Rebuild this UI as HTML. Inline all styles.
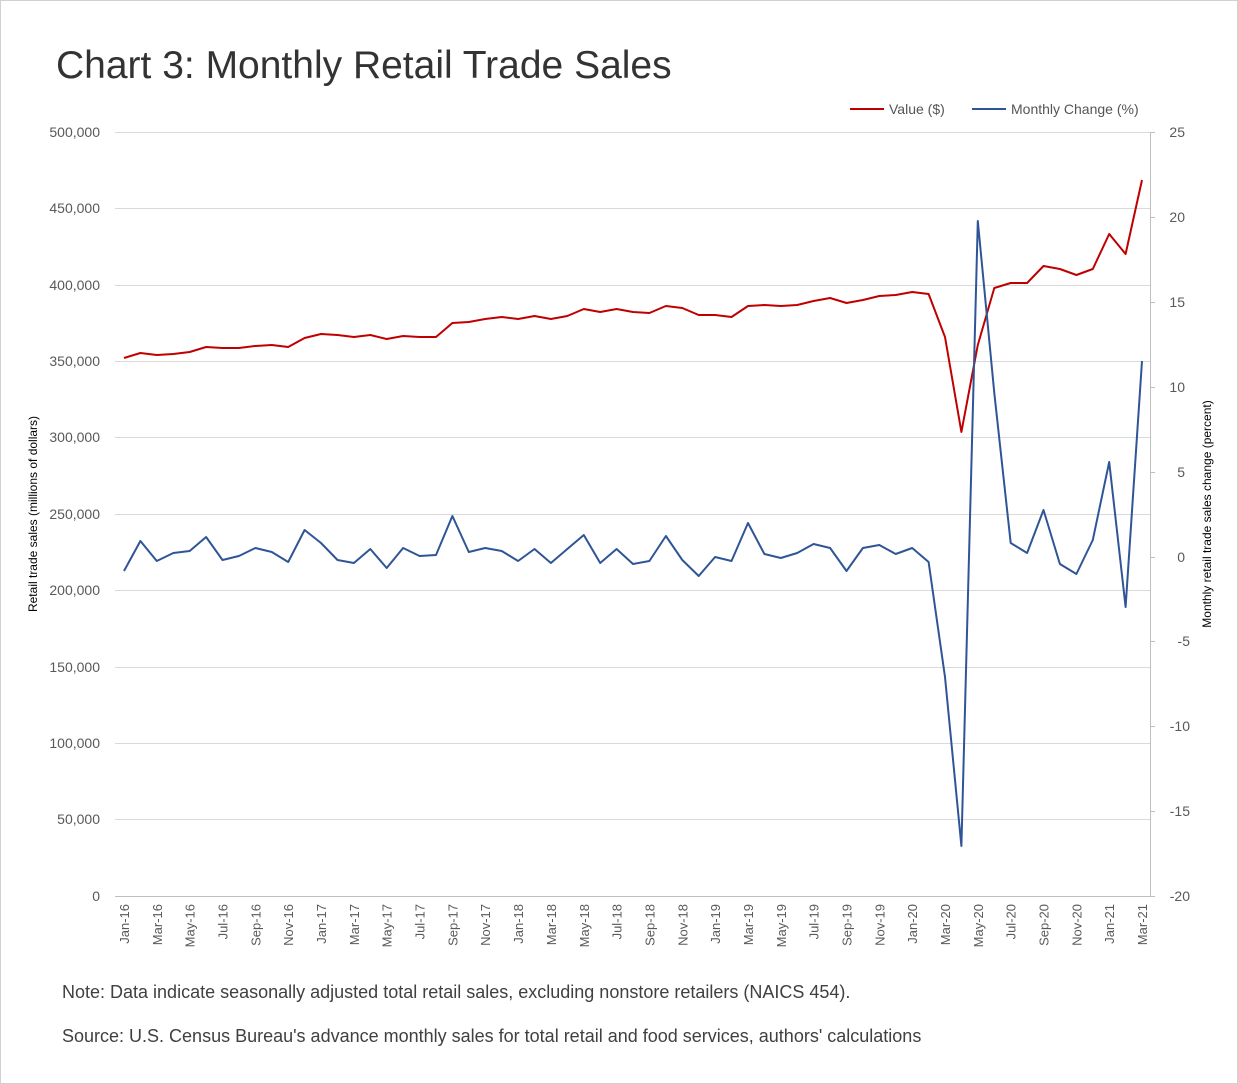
<!DOCTYPE html>
<html><head><meta charset="utf-8"><style>
html,body{margin:0;padding:0;background:#fff}
svg{display:block;font-family:"Liberation Sans",sans-serif}
</style></head><body>
<svg width="1238" height="1084" viewBox="0 0 1238 1084" xmlns="http://www.w3.org/2000/svg">
<rect x="0.5" y="0.5" width="1237" height="1083" fill="#fff" stroke="#d0d0d0"/>
<text x="56" y="78" font-size="39" fill="#333">Chart 3: Monthly Retail Trade Sales</text>
<line x1="850" y1="109" x2="884" y2="109" stroke="#c00000" stroke-width="2"/>
<text x="889" y="114" font-size="14" fill="#555">Value ($)</text>
<line x1="972" y1="109" x2="1006" y2="109" stroke="#2f5597" stroke-width="2"/>
<text x="1011" y="114" font-size="14" fill="#555">Monthly Change (%)</text>
<g stroke="#d9d9d9" stroke-width="1">
<line x1="115" x2="1150" y1="132.5" y2="132.5"/><line x1="115" x2="1150" y1="208.5" y2="208.5"/>
<line x1="115" x2="1150" y1="285.5" y2="285.5"/><line x1="115" x2="1150" y1="361.5" y2="361.5"/>
<line x1="115" x2="1150" y1="437.5" y2="437.5"/><line x1="115" x2="1150" y1="514.5" y2="514.5"/>
<line x1="115" x2="1150" y1="590.5" y2="590.5"/><line x1="115" x2="1150" y1="667.5" y2="667.5"/>
<line x1="115" x2="1150" y1="743.5" y2="743.5"/><line x1="115" x2="1150" y1="819.5" y2="819.5"/>
</g>
<line x1="115" x2="1150" y1="896.5" y2="896.5" stroke="#bfbfbf"/>
<line x1="1150.5" x2="1150.5" y1="132" y2="896" stroke="#bfbfbf"/>
<g stroke="#bfbfbf">
<line x1="1150" x2="1155" y1="132.5" y2="132.5"/><line x1="1150" x2="1155" y1="217.5" y2="217.5"/><line x1="1150" x2="1155" y1="302.5" y2="302.5"/><line x1="1150" x2="1155" y1="387.5" y2="387.5"/><line x1="1150" x2="1155" y1="472.5" y2="472.5"/><line x1="1150" x2="1155" y1="557.5" y2="557.5"/><line x1="1150" x2="1155" y1="641.5" y2="641.5"/><line x1="1150" x2="1155" y1="726.5" y2="726.5"/><line x1="1150" x2="1155" y1="811.5" y2="811.5"/><line x1="1150" x2="1155" y1="896.5" y2="896.5"/>
</g>
<g font-size="14" fill="#595959" text-anchor="end">
<text x="100" y="137">500,000</text><text x="100" y="213">450,000</text><text x="100" y="290">400,000</text><text x="100" y="366">350,000</text><text x="100" y="442">300,000</text><text x="100" y="519">250,000</text><text x="100" y="595">200,000</text><text x="100" y="672">150,000</text><text x="100" y="748">100,000</text><text x="100" y="824">50,000</text><text x="100" y="901">0</text>
</g>
<g font-size="14" fill="#595959" text-anchor="end">
<text x="1185" y="137">25</text><text x="1185" y="222">20</text><text x="1185" y="307">15</text><text x="1185" y="392">10</text><text x="1185" y="477">5</text><text x="1185" y="562">0</text><text x="1190" y="646">-5</text><text x="1190" y="731">-10</text><text x="1190" y="816">-15</text><text x="1190" y="901">-20</text>
</g>
<text transform="translate(37,514) rotate(-90)" font-size="12" fill="#000" text-anchor="middle">Retail trade sales (millions of dollars)</text>
<text transform="translate(1211,514) rotate(-90)" font-size="12" fill="#000" text-anchor="middle">Monthly retail trade sales change (percent)</text>
<g font-size="13" fill="#595959" text-anchor="end">
<text transform="translate(129,904) rotate(-90)">Jan-16</text>
<text transform="translate(161.8,904) rotate(-90)">Mar-16</text>
<text transform="translate(194.7,904) rotate(-90)">May-16</text>
<text transform="translate(227.5,904) rotate(-90)">Jul-16</text>
<text transform="translate(260.4,904) rotate(-90)">Sep-16</text>
<text transform="translate(293.2,904) rotate(-90)">Nov-16</text>
<text transform="translate(326,904) rotate(-90)">Jan-17</text>
<text transform="translate(358.9,904) rotate(-90)">Mar-17</text>
<text transform="translate(391.7,904) rotate(-90)">May-17</text>
<text transform="translate(424.6,904) rotate(-90)">Jul-17</text>
<text transform="translate(457.4,904) rotate(-90)">Sep-17</text>
<text transform="translate(490.2,904) rotate(-90)">Nov-17</text>
<text transform="translate(523.1,904) rotate(-90)">Jan-18</text>
<text transform="translate(555.9,904) rotate(-90)">Mar-18</text>
<text transform="translate(588.8,904) rotate(-90)">May-18</text>
<text transform="translate(621.6,904) rotate(-90)">Jul-18</text>
<text transform="translate(654.4,904) rotate(-90)">Sep-18</text>
<text transform="translate(687.3,904) rotate(-90)">Nov-18</text>
<text transform="translate(720.1,904) rotate(-90)">Jan-19</text>
<text transform="translate(753,904) rotate(-90)">Mar-19</text>
<text transform="translate(785.8,904) rotate(-90)">May-19</text>
<text transform="translate(818.6,904) rotate(-90)">Jul-19</text>
<text transform="translate(851.5,904) rotate(-90)">Sep-19</text>
<text transform="translate(884.3,904) rotate(-90)">Nov-19</text>
<text transform="translate(917.2,904) rotate(-90)">Jan-20</text>
<text transform="translate(950,904) rotate(-90)">Mar-20</text>
<text transform="translate(982.8,904) rotate(-90)">May-20</text>
<text transform="translate(1015.7,904) rotate(-90)">Jul-20</text>
<text transform="translate(1048.5,904) rotate(-90)">Sep-20</text>
<text transform="translate(1081.4,904) rotate(-90)">Nov-20</text>
<text transform="translate(1114.2,904) rotate(-90)">Jan-21</text>
<text transform="translate(1147,904) rotate(-90)">Mar-21</text>
</g>
<polyline fill="none" stroke="#c00000" stroke-width="2" stroke-linejoin="round" points="124,358 140.4,353 156.8,355 173.3,354 189.7,352 206.1,347 222.5,348 238.9,348 255.4,346 271.8,345 288.2,347 304.6,338 321,334 337.5,335 353.9,337 370.3,335 386.7,339 403.1,336 419.6,337 436,337 452.4,323 468.8,322 485.2,319 501.7,317 518.1,319 534.5,316 550.9,319 567.3,316 583.8,309 600.2,312 616.6,309 633,312 649.4,313 665.9,306 682.3,308 698.7,315 715.1,315 731.5,317 748,306 764.4,305 780.8,306 797.2,305 813.6,301 830.1,298 846.5,303 862.9,300 879.3,296 895.7,295 912.2,292 928.6,294 945,337 961.4,432 977.8,345 994.3,288 1010.7,283 1027.1,283 1043.5,266 1059.9,269 1076.4,275 1092.8,269 1109.2,234 1125.6,254 1142,180"/>
<polyline fill="none" stroke="#2f5597" stroke-width="2" stroke-linejoin="round" points="124,571 140.4,541 156.8,561 173.3,553 189.7,551 206.1,537 222.5,560 238.9,556 255.4,548 271.8,552 288.2,562 304.6,530 321,543 337.5,560 353.9,563 370.3,549 386.7,568 403.1,548 419.6,556 436,555 452.4,516 468.8,552 485.2,548 501.7,551 518.1,561 534.5,549 550.9,563 567.3,549 583.8,535 600.2,563 616.6,549 633,564 649.4,561 665.9,536 682.3,560 698.7,576 715.1,557 731.5,561 748,523 764.4,554 780.8,558 797.2,553 813.6,544 830.1,548 846.5,571 862.9,548 879.3,545 895.7,554 912.2,548 928.6,562 945,677 961.4,846 977.8,221 994.3,393 1010.7,543 1027.1,553 1043.5,510 1059.9,564 1076.4,574 1092.8,540 1109.2,462 1125.6,607 1142,361"/>
<text x="62" y="998" font-size="18" fill="#404040">Note: Data indicate seasonally adjusted total retail sales, excluding nonstore retailers (NAICS 454).</text>
<text x="62" y="1042" font-size="18" fill="#404040">Source: U.S. Census Bureau's advance monthly sales for total retail and food services, authors' calculations</text>
</svg>
</body></html>
